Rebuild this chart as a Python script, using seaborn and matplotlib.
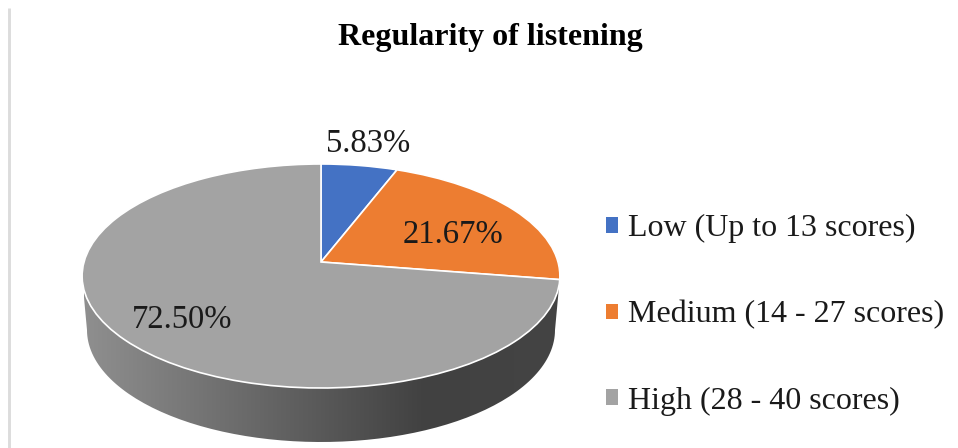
import numpy as np
import seaborn as sns
import matplotlib
matplotlib.use('Agg')
import matplotlib.pyplot as plt
from matplotlib.patches import PathPatch, Patch
from matplotlib.path import Path
from matplotlib.transforms import Transform
from matplotlib.colors import LinearSegmentedColormap

# --- DATA ---
CATEGORIES = ['Low (Up to 13 scores)', 'Medium (14 - 27 scores)', 'High (28 - 40 scores)']
VALUES = [5.83, 21.67, 72.50]
COLORS = ['#4472C4', '#ED7D31', '#A3A3A3']

# --- LAYOUT (pixels of the 958x448 picture) ---
CX, CY = 321, 262      # pie tip
TILT = 0.125           # perspective of the pie top
LABEL_POS = [(368, 144), (453, 235), (182, 320)]


class TiltTransform(Transform):
    """Unit circle of the pie -> tilted ellipse in picture pixels."""
    input_dims = output_dims = 2

    def transform_non_affine(self, xy):
        xy = np.asarray(xy)
        w = 1 + TILT * xy[:, 1]
        return np.column_stack([CX + 237 * xy[:, 0] / w, CY - 110.25 * xy[:, 1] / w])


sns.set_theme(style='white')
plt.rcParams['font.family'] = ['Liberation Serif', 'DejaVu Serif']

fig = plt.figure(figsize=(9.58, 4.48), dpi=100)
ax = fig.add_axes([0, 0, 1, 1])

wedges, _ = ax.pie(VALUES, colors=COLORS, startangle=90, counterclock=False,
                   wedgeprops={'edgecolor': 'white', 'linewidth': 1.2, 'zorder': 3})
tilt = TiltTransform() + ax.transData
for w in wedges:
    w.set_transform(tilt)

# side of the disc, gradient clipped to the outline
t = np.linspace(np.pi, 0, 120)
upper = np.column_stack([321 + 239 * np.cos(t), 276 + 112 * np.sin(t)])
lower = np.column_stack([321 + 234 * np.cos(t[::-1]), 330 + 112 * np.sin(t[::-1])])
outline = np.vstack([upper, lower, upper[:1]])
side_cmap = LinearSegmentedColormap.from_list(
    'side', [(0, '#8f8f8f'), (0.72, '#414141'), (1, '#444444')])
grad = np.linspace(0, 1, 256)[None, :]
im = ax.imshow(grad, cmap=side_cmap, extent=(84, 559, 448, 270), aspect='auto', zorder=1)
clip = PathPatch(Path(outline), transform=ax.transData, fc='none', ec='none')
ax.add_patch(clip)
im.set_clip_path(clip)

ax.set_aspect('auto')
ax.set_xlim(0, 958)
ax.set_ylim(448, 0)
ax.axis('off')

# thin border left over from the chart frame
ax.plot([9.5, 9.5], [8, 448], color='#dcdcdc', lw=2.1, zorder=1, solid_capstyle='butt')

for v, (x, y) in zip(VALUES, LABEL_POS):
    ax.text(x, y, f'{v:.2f}%', ha='center', va='center', fontsize=23.5, color='#1a1a1a', zorder=5)

ax.text(490, 38, 'Regularity of listening', ha='center', va='center',
        fontsize=23, fontweight='bold', color='black')

handles = [Patch(facecolor=c, edgecolor='none') for c in COLORS]
ax.legend(handles, CATEGORIES, loc='center left', bbox_to_anchor=(606 / 958, 1 - 315 / 448),
          frameon=False, fontsize=23, labelcolor='#1a1a1a', handlelength=0.36, handleheight=0.36,
          handletextpad=0.34, labelspacing=1.78, borderpad=0, borderaxespad=0)

fig.savefig('out.png', dpi=100)
